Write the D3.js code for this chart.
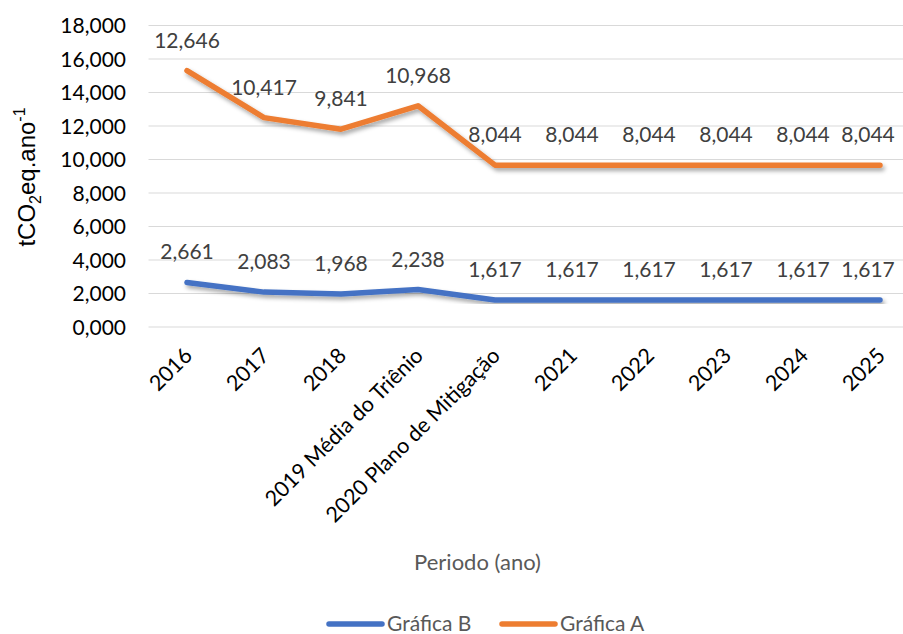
<!DOCTYPE html>
<html>
<head>
<meta charset="utf-8">
<script src="https://cdn.jsdelivr.net/npm/d3@7"></script>
<style>
  html, body { margin: 0; padding: 0; background: #fff; }
  svg { display: block; }
</style>
</head>
<body>
<svg id="chart" width="903" height="634"></svg>
<script>
// Periods on the horizontal axis
const categories = ["2016", "2017", "2018", "2019 Média do Triênio", "2020 Plano de Mitigação",
  "2021", "2022", "2023", "2024", "2025"];
// Emissions per series (tCO2eq per year); the lines are stacked, B at the bottom
const graficaB = [2661, 2083, 1968, 2238, 1617, 1617, 1617, 1617, 1617, 1617];
const graficaA = [12646, 10417, 9841, 10968, 8044, 8044, 8044, 8044, 8044, 8044];
const yTicks = [0, 2000, 4000, 6000, 8000, 10000, 12000, 14000, 16000, 18000];
const seriesNames = ["Gráfica B", "Gráfica A"];
const seriesColors = ["#4472C4", "#ED7D31"];

const svg = d3.select("#chart");
const font = "Lato, 'Open Sans', sans-serif";

const rows = categories.map((c, i) => ({ cat: c, B: graficaB[i], A: graficaA[i] }));
const stacked = d3.stack().keys(["B", "A"])(rows);

const x = d3.scalePoint().domain(categories).range([148.5, 918.5]).padding(0.5);
const y = d3.scaleLinear().domain([0, 18000]).range([327, 25.5]);

// shadow under the lines
const defs = svg.append("defs");
const f = defs.append("filter").attr("id", "shadow")
  .attr("x", "-5%").attr("y", "-20%").attr("width", "110%").attr("height", "140%");
f.append("feDropShadow").attr("dx", 2).attr("dy", 3).attr("stdDeviation", 2)
  .attr("flood-color", "#000").attr("flood-opacity", 0.35);

// gridlines
svg.append("g").selectAll("line").data(yTicks).join("line")
  .attr("x1", 148.5).attr("x2", 918.5)
  .attr("y1", d => y(d)).attr("y2", d => y(d))
  .attr("stroke", "#d9d9d9").attr("stroke-width", 1.2);

// y axis tick labels
const fmt = d3.format(",");
const yAxis = svg.append("g").attr("transform", "translate(126,0)")
  .call(d3.axisLeft(y).tickValues(yTicks).tickSize(0).tickPadding(0)
    .tickFormat(d => d === 0 ? "0,000" : fmt(d)));
yAxis.select(".domain").remove();
yAxis.selectAll("text").attr("font-family", font).attr("font-size", 21)
  .attr("fill", "#000").attr("dy", "0.35em");

// x axis tick labels
const xAxis = svg.append("g").attr("transform", "translate(0,340)")
  .call(d3.axisBottom(x).tickSize(0).tickPadding(0));
xAxis.select(".domain").remove();
xAxis.selectAll("text")
  .attr("font-family", font).attr("font-size", 21.5).attr("fill", "#000")
  .attr("text-anchor", "end")
  .attr("dy", 0)
  .attr("transform", "translate(6,17) rotate(-45)");

// lines
const line = d3.line().x((d, i) => x(categories[i])).y(d => y(d[1]));
svg.append("g").selectAll("path").data(stacked).join("path")
  .attr("d", s => line(s))
  .attr("fill", "none")
  .attr("stroke", (s, i) => seriesColors[i])
  .attr("stroke-width", 5.5)
  .attr("stroke-linecap", "round").attr("stroke-linejoin", "round")
  .attr("filter", "url(#shadow)");

// data labels
const vals = [graficaB, graficaA];
stacked.forEach((s, si) => {
  svg.append("g").selectAll("text").data(s).join("text")
    .attr("x", (d, i) => Math.min(x(categories[i]), 868))
    .attr("y", d => y(d[1]) - 23)
    .attr("text-anchor", "middle")
    .attr("font-family", font).attr("font-size", 21).attr("fill", "#404040")
    .text((d, i) => fmt(vals[si][i]));
});

// y axis title
svg.append("text")
  .attr("transform", "translate(35,177) rotate(-90)")
  .attr("text-anchor", "middle")
  .attr("font-family", "'Liberation Sans', Arial, sans-serif").attr("font-size", 24)
  .attr("fill", "#000")
  .call(t => {
    t.append("tspan").text("tCO");
    t.append("tspan").attr("font-size", 16).attr("dy", 6).text("2");
    t.append("tspan").attr("dy", -6).text("eq.ano");
    t.append("tspan").attr("font-size", 16).attr("dy", -10).text("-1");
  });

// x axis title
svg.append("text")
  .attr("x", 477.5).attr("y", 570)
  .attr("text-anchor", "middle")
  .attr("font-family", font).attr("font-size", 22).attr("fill", "#595959")
  .text("Periodo (ano)");

// legend
const legendX = [327, 500];
const lg = svg.append("g").selectAll("g").data(seriesNames).join("g")
  .attr("transform", (d, i) => `translate(${legendX[i]},624)`);
lg.append("line").attr("x1", 2).attr("x2", 55).attr("y1", 0).attr("y2", 0)
  .attr("stroke", (d, i) => seriesColors[i]).attr("stroke-width", 5.5)
  .attr("stroke-linecap", "round");
lg.append("text").attr("x", 60).attr("y", 7)
  .attr("font-family", font).attr("font-size", 21).attr("fill", "#595959")
  .text(d => d);
</script>
</body>
</html>
